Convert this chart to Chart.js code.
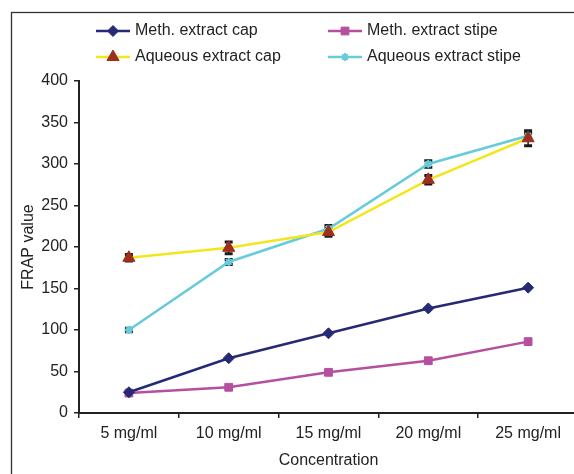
<!DOCTYPE html>
<html>
<head>
<meta charset="utf-8">
<script src="https://cdn.jsdelivr.net/npm/chart.js@4/dist/chart.umd.min.js"></script>
<style>
  html, body { margin: 0; padding: 0; background: #fff; overflow: hidden; }
  #wrap { position: relative; width: 586px; height: 474px; }
</style>
</head>
<body>
<div id="wrap"><canvas id="c" width="586" height="474"></canvas></div>
<script>
// Concentrations tested
const categories = ['5 mg/ml', '10 mg/ml', '15 mg/ml', '20 mg/ml', '25 mg/ml'];

// FRAP values per extract
const methCap = [25, 66, 96, 126, 151];
const methStipe = [24, 31, 49, 63, 86];
const aqCap = [187, 199, 218, 281, 331];
const aqStipe = [100, 182, 222, 300, 334];

// Standard deviations (error bars)
const aqCapErr = [4, 7, 5, 5, 9];
const aqStipeErr = [2, 3, 4, 4, 3];

const FONT = 'Liberation Sans, Arial, sans-serif';
const INK = '#222';

// Vertical error bars with caps, drawn under the markers
const errorBars = {
  id: 'errorBars',
  beforeDatasetsDraw(chart) {
    const ctx = chart.ctx;
    const y = chart.scales.y;
    chart.data.datasets.forEach((ds, i) => {
      if (!ds.err) return;
      const meta = chart.getDatasetMeta(i);
      meta.data.forEach((pt, j) => {
        const v = ds.data[j], e = ds.err[j];
        const top = y.getPixelForValue(v + e);
        const bot = y.getPixelForValue(v - e);
        ctx.save();
        ctx.strokeStyle = '#1a1a1a';
        ctx.lineWidth = 1.5;
        ctx.beginPath();
        ctx.moveTo(pt.x, top); ctx.lineTo(pt.x, bot);
        ctx.stroke();
        ctx.lineWidth = 3;
        ctx.beginPath();
        ctx.moveTo(pt.x - 4, top); ctx.lineTo(pt.x + 4, top);
        ctx.moveTo(pt.x - 4, bot); ctx.lineTo(pt.x + 4, bot);
        ctx.stroke();
        ctx.restore();
      });
    });
  }
};

// Two-column legend and the outer frame
const frameAndLegend = {
  id: 'frameAndLegend',
  afterDraw(chart) {
    const ctx = chart.ctx;
    ctx.save();
    ctx.strokeStyle = '#333';
    ctx.lineWidth = 1.3;
    ctx.strokeRect(11.5, 12.5, 700, 600);
    const slots = [[96, 31], [328, 31], [96, 57], [328, 57]];
    chart.data.datasets.forEach((ds, i) => {
      const [x, yy] = slots[i];
      ctx.strokeStyle = ds.borderColor;
      ctx.lineWidth = 2.5;
      ctx.beginPath();
      ctx.moveTo(x, yy); ctx.lineTo(x + 34, yy);
      ctx.stroke();
      ctx.fillStyle = ds.pointBackgroundColor;
      ctx.strokeStyle = ds.pointBorderColor;
      ctx.lineWidth = ds.pointBorderWidth || 1;
      Chart.helpers.drawPoint(ctx, {
        pointStyle: ds.pointStyle,
        radius: ds.pointRadius,
        rotation: 0,
        borderWidth: ds.pointBorderWidth || 1
      }, x + 17, yy);
      ctx.fillStyle = INK;
      ctx.font = '16px ' + FONT;
      ctx.textBaseline = 'middle';
      ctx.textAlign = 'left';
      ctx.fillText(ds.label, x + 39, yy);
    });
    ctx.restore();
  }
};

function series(label, data, line, pStyle, pFill, pRadius, err) {
  return {
    label, data, err,
    borderColor: line,
    borderWidth: 2.5,
    tension: 0,
    pointStyle: pStyle,
    pointRadius: pRadius,
    pointHoverRadius: pRadius,
    pointBackgroundColor: pFill,
    pointBorderColor: pFill,
    pointBorderWidth: pStyle === 'star' ? 2 : 1
  };
}

new Chart(document.getElementById('c'), {
  type: 'line',
  data: {
    labels: categories,
    datasets: [
      series('Meth. extract cap', methCap, '#262a74', 'rectRot', '#262a74', 5.5),
      series('Meth. extract stipe', methStipe, '#b5509f', 'rect', '#b5509f', 5.5),
      series('Aqueous extract cap', aqCap, '#f4e61e', 'triangle', '#9e2f1c', 7, aqCapErr),
      series('Aqueous extract stipe', aqStipe, '#67cbd9', 'star', '#67cbd9', 4, aqStipeErr)
    ]
  },
  options: {
    responsive: false,
    animation: false,
    events: [],
    layout: { padding: { top: 81, right: 3, left: 0, bottom: 0 } },
    plugins: { legend: { display: false }, tooltip: { enabled: false } },
    scales: {
      x: {
        offset: true,
        grid: { offset: true, drawOnChartArea: false, drawTicks: true, tickLength: 5, color: INK, lineWidth: 1.5 },
        border: { display: true, color: INK, width: 2 },
        ticks: { color: INK, font: { family: FONT, size: 16 }, padding: 6, maxRotation: 0, autoSkip: false },
        title: { display: true, text: 'Concentration', color: INK, font: { family: FONT, size: 16 }, padding: { top: 0, bottom: 4 } },
        afterFit(s) { s.height = 61; }
      },
      y: {
        min: 0, max: 400,
        grid: { drawOnChartArea: false, drawTicks: true, tickLength: 5, color: INK, lineWidth: 1.5 },
        border: { display: true, color: INK, width: 2 },
        ticks: { stepSize: 50, color: INK, font: { family: FONT, size: 16 }, padding: 6 },
        title: { display: true, text: 'FRAP value', color: INK, font: { family: FONT, size: 16 }, padding: { top: 19, bottom: 0 } },
        afterFit(s) { s.width = 79; }
      }
    }
  },
  plugins: [errorBars, frameAndLegend]
});
</script>
</body>
</html>
